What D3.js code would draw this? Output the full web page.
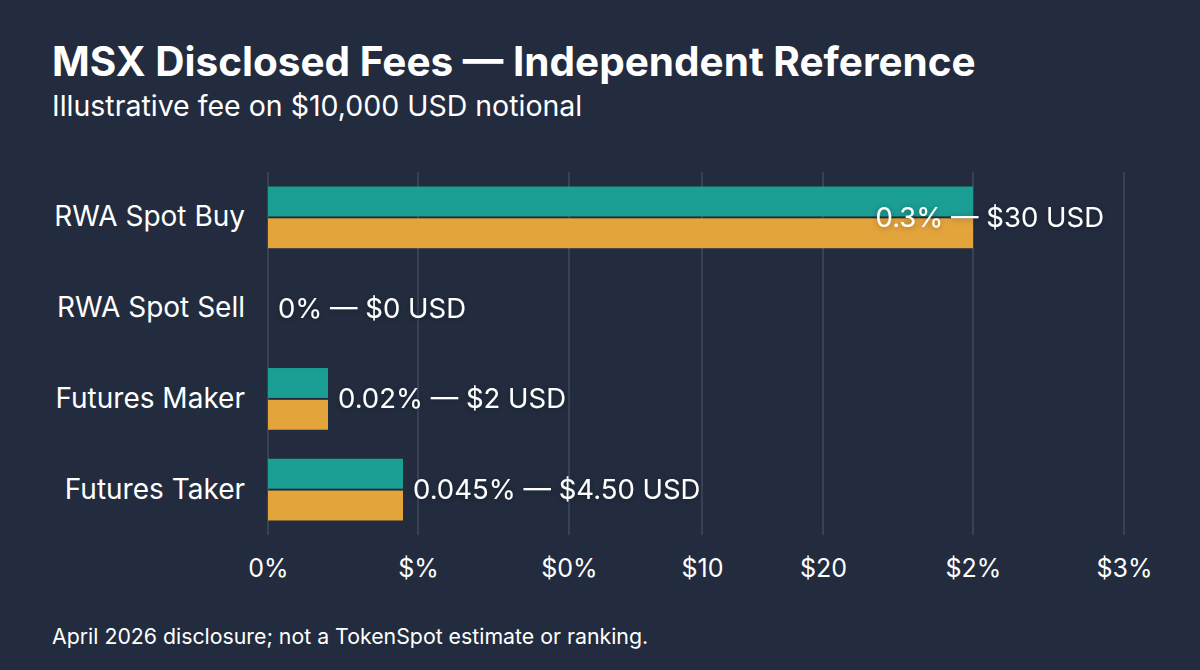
<!DOCTYPE html>
<html>
<head>
<meta charset="utf-8">
<script src="https://cdn.jsdelivr.net/npm/d3@7"></script>
<style>
	html, body { margin: 0; padding: 0; background: #222c3e; }
	svg { display: block; font-family: Inter, "Noto Sans", sans-serif; }
</style>
</head>
<body>
<svg id="chart" width="1200" height="670"></svg>
<script>
const categories = ["RWA Spot Buy", "RWA Spot Sell", "Futures Maker", "Futures Taker"];
const feePct = [0.3, 0, 0.02, 0.045];
const feeUsd = [30, 0, 2, 4.5];
const valueLabels = ["0.3% \u2014 $30 USD", "0% \u2014 $0 USD", "0.02% \u2014 $2 USD", "0.045% \u2014 $4.50 USD"];
const tickValues = [0, 0.05, 0.1, 0.15, 0.2, 0.3, 0.4];
const tickLabels = ["0%", "$%", "$0%", "$10", "$20", "$2%", "$3%"];

const bg = "#222c3e";
const teal = "#1b9e94";
const orange = "#e4a43c";
const gridColor = "#4d596c";
const textColor = "#ffffff";

const chart = d3.select("#chart");

chart.append("rect")
	.attr("width", 1200)
	.attr("height", 670)
	.attr("fill", bg);

const defs = chart.append("defs");
defs.append("filter")
	.attr("id", "shadow")
	.attr("x", "-20%").attr("y", "-50%")
	.attr("width", "140%").attr("height", "200%")
	.append("feDropShadow")
	.attr("dx", 0).attr("dy", 1)
	.attr("stdDeviation", 3)
	.attr("flood-color", "#000")
	.attr("flood-opacity", 0.35);

// the reference axis is uneven, so the scale is piecewise
const x = d3.scaleLinear()
	.domain(tickValues)
	.range([268, 418, 569, 702, 823, 973, 1124]);
const xUsd = x.copy().domain(tickValues.map(d => d * 100));

const y = d3.scaleBand()
	.domain(categories)
	.range([172, 535])
	.paddingInner(0.32)
	.paddingOuter(0.16);

const sub = d3.scaleBand()
	.domain(["pct", "usd"])
	.range([0, y.bandwidth()])
	.paddingInner(0.06);

// grid
const grid = chart.append("g");
grid.selectAll("line")
	.data(tickValues)
	.enter()
	.append("line")
	.attr("x1", d => x(d))
	.attr("x2", d => x(d))
	.attr("y1", 172)
	.attr("y2", 535)
	.attr("stroke", gridColor)
	.attr("stroke-width", 1);

// x axis
const xAxis = d3.axisBottom(x)
	.tickValues(tickValues)
	.tickFormat((d, i) => tickLabels[i])
	.tickSize(0)
	.tickPadding(24);

const xg = chart.append("g")
	.attr("transform", "translate(0,535)")
	.call(xAxis);
xg.select(".domain").remove();
xg.selectAll("text")
	.attr("fill", textColor)
	.attr("font-size", 25)
	.attr("font-family", "Inter, sans-serif");

// y axis
const yAxis = d3.axisLeft(y).tickSize(0).tickPadding(23);
const yg = chart.append("g")
	.attr("transform", "translate(268,0)")
	.call(yAxis);
yg.select(".domain").remove();
yg.selectAll("text")
	.attr("fill", textColor)
	.attr("font-size", 28)
	.attr("font-family", "Inter, sans-serif");

// bars
const rows = categories.map((c, i) => ({ cat: c, pct: feePct[i], usd: feeUsd[i], label: valueLabels[i] }));

const groups = chart.append("g")
	.selectAll("g")
	.data(rows)
	.enter()
	.append("g")
	.attr("transform", d => "translate(0," + y(d.cat) + ")");

groups.filter(d => d.pct > 0).append("rect")
	.attr("x", x(0))
	.attr("y", sub("pct"))
	.attr("width", d => x(d.pct) - x(0))
	.attr("height", sub.bandwidth())
	.attr("fill", teal);

groups.filter(d => d.usd > 0).append("rect")
	.attr("x", xUsd(0))
	.attr("y", sub("usd"))
	.attr("width", d => xUsd(d.usd) - xUsd(0))
	.attr("height", sub.bandwidth())
	.attr("fill", orange);

groups.append("text")
	.text(d => d.label)
	.attr("y", y.bandwidth() / 2)
	.attr("dy", "0.35em")
	.attr("fill", textColor)
	.attr("font-size", 27.5)
	.attr("filter", "url(#shadow)")
	.attr("x", function(d) {
		const w = this.getComputedTextLength();
		const x0 = x(d.pct) + 10;
		return x0 + w > 1110 ? 1104 - w : x0;
	});

// titles
chart.append("text")
	.text("MSX Disclosed Fees \u2014 Independent Reference")
	.attr("x", 52)
	.attr("y", 76)
	.attr("fill", textColor)
	.attr("font-size", 40.5)
	.attr("font-weight", 700);

chart.append("text")
	.text("Illustrative fee on $10,000 USD notional")
	.attr("x", 52)
	.attr("y", 116)
	.attr("fill", textColor)
	.attr("font-size", 28.5);

chart.append("text")
	.text("April 2026 disclosure; not a TokenSpot estimate or ranking.")
	.attr("x", 52)
	.attr("y", 644)
	.attr("fill", textColor)
	.attr("font-size", 21.3);
</script>
</body>
</html>
